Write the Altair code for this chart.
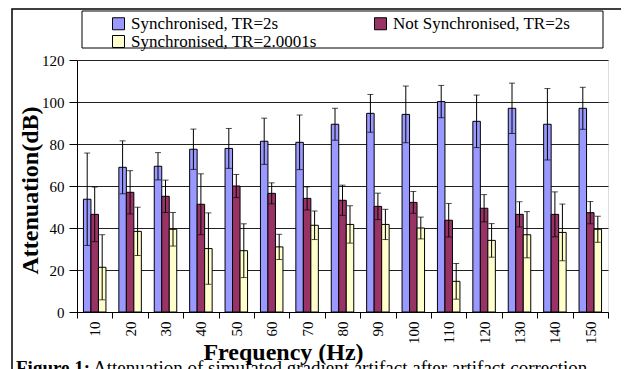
import altair as alt
import pandas as pd

freqs = [10, 20, 30, 40, 50, 60, 70, 80, 90, 100, 110, 120, 130, 140, 150]
series_order = ["Synchronised, TR=2s", "Not Synchronised, TR=2s", "Synchronised, TR=2.0001s"]
colors = ["#9999FF", "#993366", "#FFFFCC"]

sync2 = [53.7, 68.9, 69.4, 77.5, 77.9, 81.3, 80.8, 89.4, 94.6, 94.1, 100.2, 90.8, 97.0, 89.4, 97.0]
sync2_err = [22.0, 12.6, 6.5, 9.6, 9.5, 11.0, 13.0, 7.6, 9.0, 13.5, 7.7, 12.5, 12.0, 17.0, 10.0]
notsync = [46.5, 57.0, 55.1, 51.3, 60.0, 56.5, 54.1, 53.2, 50.3, 52.2, 43.7, 49.4, 46.5, 46.5, 47.3]
notsync_err = [13.0, 10.3, 7.7, 14.5, 5.5, 5.0, 5.5, 7.2, 6.3, 5.2, 8.0, 6.5, 6.0, 10.7, 5.3]
sync20001 = [21.3, 38.4, 39.4, 30.2, 29.2, 31.0, 41.3, 41.7, 41.7, 40.0, 14.6, 34.1, 36.8, 37.9, 39.4]
sync20001_err = [15.5, 11.5, 8.0, 17.0, 12.8, 6.0, 6.8, 8.9, 7.2, 5.2, 8.5, 8.0, 11.0, 13.5, 6.2]

rows = []
for name, vals, errs in zip(series_order, [sync2, notsync, sync20001], [sync2_err, notsync_err, sync20001_err]):
    for f, v, e in zip(freqs, vals, errs):
        rows.append({"freq": f, "series": name, "value": v, "lo": v - e, "hi": v + e})
df = pd.DataFrame(rows)

FONT = "Liberation Serif"

xscale = alt.Scale(paddingInner=0, paddingOuter=0)
xaxis = alt.Axis(title="Frequency (Hz)", labelAngle=-90, ticks=True, tickBand="extent",
                 tickColor="black", tickSize=6, tickWidth=1,
                 labelPadding=3, labelFont=FONT, labelFontSize=15,
                 labelColor="black", domainColor="black",
                 titleFont=FONT, titleFontSize=24, titleFontWeight="bold",
                 titleColor="black", titleX=206, titleY=47,
                 titleBaseline="alphabetic")
xoff = alt.XOffset("series:N", sort=series_order,
                   scale=alt.Scale(paddingInner=0, paddingOuter=0.86))
yscale = alt.Scale(domain=[0, 120])
yaxis = alt.Axis(title="Attenuation(dB)", values=[0, 20, 40, 60, 80, 100, 120],
                 grid=True, gridColor="#222222", gridWidth=1,
                 domainColor="black", tickColor="black", tickSize=8,
                 labelFont=FONT, labelFontSize=15, labelColor="black",
                 labelPadding=5,
                 titleFont=FONT, titleFontSize=24, titleFontWeight="bold",
                 titleColor="black", titleX=-47, titleY=130,
                 titleBaseline="middle")

base = alt.Chart(df)

bars = base.mark_bar(stroke="black", strokeWidth=1).encode(
    x=alt.X("freq:O", sort=freqs, scale=xscale, axis=xaxis),
    xOffset=xoff,
    y=alt.Y("value:Q", scale=yscale, axis=yaxis),
    color=alt.Color("series:N", sort=series_order,
                    scale=alt.Scale(domain=series_order, range=colors),
                    legend=alt.Legend(title=None, orient="none", legendX=33, legendY=-45,
                                      direction="horizontal",
                                      columns=2, columnPadding=55, rowPadding=0,
                                      symbolType="square", symbolSize=144,
                                      symbolStrokeColor="black", symbolStrokeWidth=1,
                                      labelFont=FONT, labelFontSize=17, labelColor="black",
                                      labelLimit=400, labelOffset=4, padding=0)),
)

rules = base.mark_rule(color="black", strokeWidth=1).encode(
    x=alt.X("freq:O", sort=freqs, scale=xscale, axis=xaxis),
    xOffset=xoff,
    y=alt.Y("lo:Q", scale=yscale, axis=yaxis),
    y2="hi:Q",
)

caps = base.transform_fold(["lo", "hi"], as_=["end", "pos"]).mark_tick(
    color="black", thickness=1, size=6
).encode(
    x=alt.X("freq:O", sort=freqs, scale=xscale, axis=xaxis),
    xOffset=xoff,
    y=alt.Y("pos:Q", scale=yscale, axis=yaxis),
)

one = alt.Data(values=[{"a": 1}])
legend_box = alt.Chart(one).mark_rect(fillOpacity=0, stroke="black", strokeWidth=1).encode(
    x=alt.value(5), x2=alt.value(526), y=alt.value(-49), y2=alt.value(-12)
)
outer_box = alt.Chart(one).mark_rect(fillOpacity=0, stroke="black", strokeWidth=1.5).encode(
    x=alt.value(-65), x2=alt.value(545), y=alt.value(-51), y2=alt.value(330)
)

caption_bold = alt.Chart(one).mark_text(
    text="Figure 1:", font=FONT, fontSize=19, fontWeight="bold", align="left",
    baseline="alphabetic", color="black"
).encode(x=alt.value(-61), y=alt.value(314))
caption_rest = alt.Chart(one).mark_text(
    text="Attenuation of simulated gradient artifact after artifact correction",
    font=FONT, fontSize=19, align="left", baseline="alphabetic", color="black"
).encode(x=alt.value(16), y=alt.value(314))

chart = alt.layer(
    bars, rules, caps, legend_box, outer_box, caption_bold, caption_rest
).properties(
    width=531, height=252,
    autosize=alt.AutoSizeParams(type="none"),
    padding={"left": 69, "top": 52, "right": 13, "bottom": 70},
).configure_view(stroke="#808080").configure_axis(
    labelFont=FONT, titleFont=FONT
).configure_legend(labelFont=FONT).configure_text(font=FONT).configure(background="white")

chart.save("out.html", embed_options={"renderer": "svg", "actions": False})
